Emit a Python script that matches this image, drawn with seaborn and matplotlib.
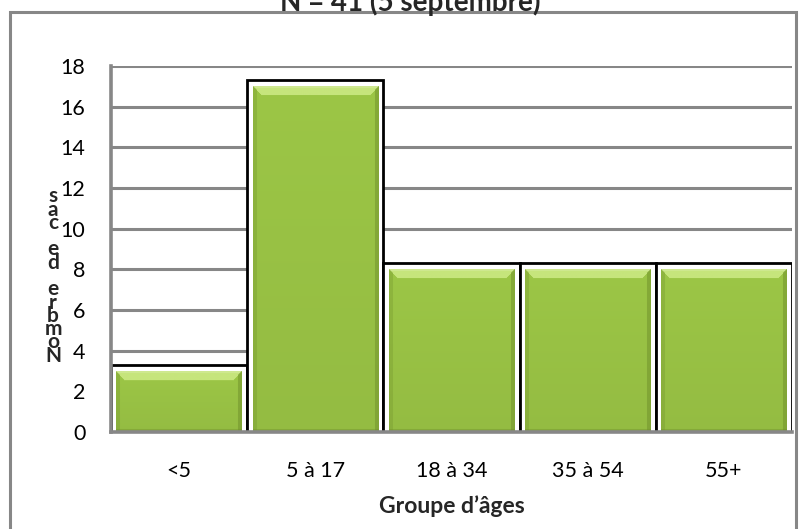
import numpy as np
import matplotlib
matplotlib.use("Agg")
import matplotlib.pyplot as plt
import matplotlib.transforms as mtransforms
from matplotlib.patches import Rectangle
import seaborn as sns

# Cases per age group
age_groups = ["<5", "5 à 17", "18 à 34", "35 à 54", "55+"]
cases = [3, 17, 8, 8, 8]
y_ticks = [0, 2, 4, 6, 8, 10, 12, 14, 16, 18]

title_text = "N = 41 (5 septembre)"
x_title = "Groupe d’âges"
y_title = "Nombre de cas"

sns.set_theme(style="white")
plt.rcParams["font.family"] = ["Lato", "DejaVu Sans"]

GRID = "#878787"
GREEN = np.array([0x9C, 0xC6, 0x46]) / 255
LIGHT = np.array([0xC6, 0xE5, 0x7C]) / 255
DARK = np.array([0x6E, 0x8E, 0x2A]) / 255

fig = plt.figure(figsize=(8.02, 5.29), dpi=100)
ax = fig.add_axes([0.1384, 0.1834, 0.8491, 0.6918])

# outer chart frame
fig.patches.append(Rectangle((10 / 802, -0.05), 786 / 802, 1 - 12 / 529 + 0.05,
                             transform=fig.transFigure, fill=False,
                             edgecolor=GRID, linewidth=2.2, zorder=0))

# black outline boxes behind the bars
sns.barplot(x=age_groups, y=cases, width=1.0, facecolor="white",
            edgecolor="black", linewidth=2.0, ax=ax, zorder=1)
n = len(age_groups)
shift = mtransforms.offset_copy(ax.transData, fig=fig, x=0, y=6, units="dots")
for p in ax.patches[:n]:
    top = p.get_y() + p.get_height()
    # start below the baseline so only the sides and top of the box show
    p.set_y(-1.0)
    p.set_height(top + 1.0)
    p.set_transform(shift)

# green bars
sns.barplot(x=age_groups, y=cases, width=0.92, color=GREEN,
            linewidth=0, ax=ax, zorder=2)
green_bars = ax.patches[n:2 * n]

ax.set_xlim(-0.5, n - 0.5)
ax.set_ylim(0, 18)
fig.canvas.draw()

# bevelled shading for each green bar
for p in green_bars:
    x0, y0, w, h = p.get_x(), p.get_y(), p.get_width(), p.get_height()
    (px0, py0), (px1, py1) = ax.transData.transform([(x0, y0), (x0 + w, y0 + h)])
    W, H = max(int(px1 - px0), 2), max(int(py1 - py0), 2)
    img = np.ones((H, W, 3)) * GREEN
    t = np.linspace(0, 1, H)[:, None, None]
    img = img * (1.0 - 0.05 * t)
    xx = np.arange(W)[None, :]
    yy = np.arange(H)[:, None]
    bevel = 9
    side = 4
    top = (yy < bevel) & (xx >= yy) & (xx < W - yy)
    img[top] = LIGHT
    hl = (yy < 2) & (xx >= yy) & (xx < W - yy)
    img[hl] = LIGHT * 0.85 + 0.15
    left = (xx < side) & (yy >= xx)
    right = (xx >= W - side) & (yy >= (W - 1 - xx))
    img[left] = img[left] * 0.7 + DARK * 0.3
    img[right] = img[right] * 0.5 + DARK * 0.5
    bot = yy[:, 0] >= H - 3
    img[bot, :] = img[bot, :] * 0.6 + DARK * 0.4
    im = ax.imshow(img, extent=[x0, x0 + w, y0, y0 + h], aspect="auto",
                   interpolation="bilinear", zorder=3, origin="upper")
    im.set_clip_path(p)

ax.set_xlim(-0.5, n - 0.5)
ax.set_ylim(0, 18)

# grid and axes
ax.set_yticks(y_ticks)
ax.yaxis.grid(True, color=GRID, linewidth=2.2, zorder=0)
ax.set_axisbelow(True)
for s in ["top", "right"]:
    ax.spines[s].set_visible(False)
for s in ["left", "bottom"]:
    ax.spines[s].set_color(GRID)
    ax.spines[s].set_linewidth(2.6)
    ax.spines[s].set_zorder(4)

ax.tick_params(axis="y", direction="inout", length=11, width=2.2, color=GRID,
               labelsize=15.5, pad=13, labelcolor="black")
ax.set_xticks(range(n))
ax.set_xticklabels(age_groups)
ax.set_xticks(np.arange(-0.5, n, 1.0), minor=True)
ax.tick_params(axis="x", which="major", length=0, labelsize=15.5, pad=21,
               labelcolor="black")
ax.tick_params(axis="x", which="minor", direction="out", length=7, width=2.2,
               color=GRID)
ax.set_xlabel(x_title, fontsize=16.5, fontweight="bold", labelpad=10)
ax.set_ylabel("")

# stacked vertical axis title
fig.text(53 / 802, 1 - 276 / 529, "\n".join(reversed(y_title)), ha="center",
         va="center", fontsize=15, fontweight="bold", linespacing=0.58)

# title, partly running off the top edge
fig.text(410 / 802, 1 - 11 / 529, title_text, ha="center", va="baseline",
         fontsize=20, fontweight="bold")

fig.savefig("out.png", dpi=100)
